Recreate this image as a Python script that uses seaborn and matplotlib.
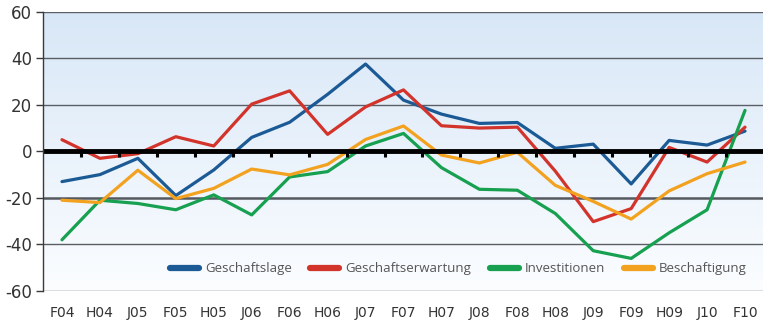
import numpy as np
import pandas as pd
import matplotlib
matplotlib.use("Agg")
import matplotlib.pyplot as plt
import seaborn as sns

periods = ["F04", "H04", "J05", "F05", "H05", "J06", "F06", "H06", "J07", "F07",
           "H07", "J08", "F08", "H08", "J09", "F09", "H09", "J10", "F10"]

geschaeftslage = [-13, -10, -3, -19, -8, 6, 12.5, 24.5, 37.5, 22,
                  16, 12, 12.4, 1.3, 3.1, -14, 4.7, 2.7, 8.7]
geschaeftserwartung = [5, -3, -1, 6.3, 2.3, 20.3, 26, 7.3, 19.1, 26.4,
                       11, 10, 10.4, -8.5, -30.2, -24.6, 1.7, -4.6, 10.4]
investitionen = [-38, -21, -22.4, -25.1, -18.7, -27.3, -11, -8.7, 2.3, 7.7,
                 -7, -16.3, -16.7, -26.7, -42.7, -46, -35, -25.1, 17.6]
beschaeftigung = [-21, -22, -8.1, -20.3, -15.9, -7.6, -10.1, -5.6, 5.1, 10.9,
                  -1.6, -5, -0.4, -14.6, -21.5, -29.1, -17, -9.6, -4.6]

series_names = ["Geschaftslage", "Geschaftserwartung", "Investitionen", "Beschaftigung"]
series_colors = ["#1b5a94", "#d2342c", "#16a050", "#f3a21f"]

df = pd.DataFrame({
    "periode": periods * 4,
    "pos": list(range(len(periods))) * 4,
    "wert": geschaeftslage + geschaeftserwartung + investitionen + beschaeftigung,
    "reihe": sum([[n] * len(periods) for n in series_names], []),
})

sns.set_style("white")
plt.rcParams["font.family"] = ["DejaVu Sans"]
plt.rcParams["axes.unicode_minus"] = False

fig = plt.figure(figsize=(7.63, 3.33), dpi=100)
ax = fig.add_axes([43 / 763, 1 - 291 / 333, 721 / 763, (291 - 11.7) / 333])

# vertical blue-to-white background gradient
grad = np.linspace(0, 1, 256).reshape(-1, 1)
top = np.array([0.847, 0.906, 0.969])
bot = np.array([0.985, 0.992, 1.0])
img = top[None, None, :] * (1 - grad[:, :, None]) + bot[None, None, :] * grad[:, :, None]
ax.imshow(img, extent=(-0.5, 18.5, -60, 60), aspect="auto", zorder=0, origin="upper")

# horizontal gridlines
for v in [60, 40, 20, -40, -60]:
    ax.axhline(v, color="#5a5f66", lw=1.0, zorder=1)
ax.axhline(-20, color="#55595f", lw=1.8, zorder=1)

sns.lineplot(data=df, x="pos", y="wert", hue="reihe", hue_order=series_names,
             palette=series_colors, linewidth=2.3, ax=ax, zorder=3, legend=False)

# zero line with category boundary ticks
ax.axhline(0, color="black", lw=3.5, zorder=4)
for b in np.arange(0.5, 18.5, 1.0):
    ax.plot([b, b], [0, -2.4], color="black", lw=2.2, zorder=4, solid_capstyle="butt")

ax.set_xlim(-0.5, 18.5)
ax.set_ylim(-60, 60)
ax.set_xticks(range(len(periods)))
ax.set_xticklabels(periods)
ax.set_yticks([-60, -40, -20, 0, 20, 40, 60])
ax.set_xlabel("")
ax.set_ylabel("")

for side in ["top", "right", "bottom"]:
    ax.spines[side].set_visible(False)
ax.spines["left"].set_color("#3a3a3a")
ax.spines["left"].set_linewidth(1.0)
ax.spines["left"].set_zorder(5)

ax.tick_params(axis="x", length=0, pad=11, labelsize=10, labelcolor="#333333")
ax.tick_params(axis="y", length=5, width=1, color="#3a3a3a", pad=3,
               labelsize=12, labelcolor="#333333", left=True)

handles = [plt.Line2D([0], [0], color=c, lw=4.5, solid_capstyle="round") for c in series_colors]
leg = ax.legend(handles, series_names, loc="center", bbox_to_anchor=(0.576, 0.079),
                ncol=4, frameon=False, handlelength=2.2, handletextpad=0.45,
                columnspacing=1.4,
                prop={"family": "Open Sans", "stretch": "semi-condensed", "size": 9.5})
for t in leg.get_texts():
    t.set_color("#555555")
leg.set_zorder(6)

fig.savefig("out.png", dpi=100)
